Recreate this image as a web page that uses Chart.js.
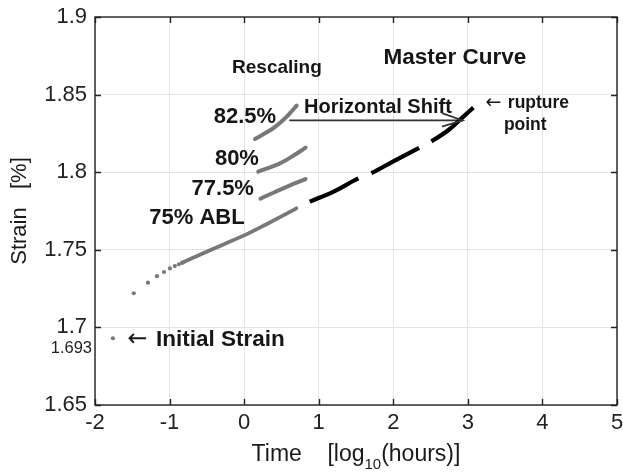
<!DOCTYPE html>
<html>
<head>
<meta charset="utf-8">
<script src="https://cdn.jsdelivr.net/npm/chart.js@4.4.0/dist/chart.umd.min.js"></script>
<style>
  html, body { margin: 0; padding: 0; background: #fff; }
  #wrap { width: 623px; height: 472px; }
</style>
</head>
<body>
<div id="wrap"><canvas id="strainChart"></canvas></div>
<script>
// time in log10(hours), strain in %
const initialTime = [-1.76];
const initialStrain = [1.693];

const dots75Time = [-1.48, -1.29, -1.17, -1.075, -0.995, -0.93, -0.875, -0.83];
const dots75Strain = [1.722, 1.7288, 1.733, 1.7357, 1.738, 1.7395, 1.7407, 1.7417];

const line75Time = [-0.83, -0.6, -0.3, 0, 0.3, 0.5, 0.7];
const line75Strain = [1.7417, 1.7467, 1.753, 1.7593, 1.7665, 1.7715, 1.7767];

const line775Time = [0.22, 0.524, 0.824];
const line775Strain = [1.783, 1.7896, 1.7956];

const line80Time = [0.189, 0.48, 0.658, 0.824];
const line80Strain = [1.8003, 1.8057, 1.8106, 1.8158];

const line825Time = [0.145, 0.39, 0.524, 0.614, 0.704];
const line825Strain = [1.8214, 1.8283, 1.8336, 1.838, 1.8429];

const masterTime = [0.88, 1.2, 1.53, 1.71, 2.0, 2.36, 2.54, 2.75, 2.94, 3.1];
const masterStrain = [1.781, 1.7875, 1.796, 1.7995, 1.807, 1.816, 1.8207, 1.8275, 1.8358, 1.8427];

const shiftTime = [0.614, 2.93];
const shiftStrain = [1.8334, 1.8334];

const xTicks = [-2, -1, 0, 1, 2, 3, 4, 5];
const yTicks = [1.65, 1.7, 1.75, 1.8, 1.85, 1.9];

const toPoints = (xs, ys) => xs.map((x, i) => ({ x, y: ys[i] }));

const GRAY = '#787878';
const INK = '#161616';
const FONT = '"Liberation Sans", Arial, Helvetica, sans-serif';
const ARROW_FONT = '"DejaVu Sans", sans-serif';

// text notes, placed in data units
const notes = [
  { text: 'Rescaling', x: 0.44, y: 1.8671, size: 19, bold: true },
  { text: 'Master Curve', x: 2.826, y: 1.8736, size: 22.5, bold: true },
  { text: '82.5%', x: 0.011, y: 1.8358, size: 22, bold: true },
  { text: '80%', x: -0.097, y: 1.8084, size: 22, bold: true },
  { text: '77.5%', x: -0.287, y: 1.7889, size: 22, bold: true },
  { text: '75% ABL', x: -0.633, y: 1.7703, size: 22, bold: true },
  { text: 'Horizontal Shift', x: 1.794, y: 1.842, size: 20, bold: true },
  { text: '\u2190', x: 3.342, y: 1.8446, size: 19, bold: false, family: ARROW_FONT },
  { text: 'rupture', x: 3.536, y: 1.8416, size: 17.5, bold: true, align: 'left', base: 'alphabetic' },
  { text: 'point', x: 3.483, y: 1.8272, size: 17.5, bold: true, align: 'left', base: 'alphabetic' },
  { text: '\u2190', x: -1.43, y: 1.6922, size: 24, bold: false, family: ARROW_FONT },
  { text: 'Initial Strain', x: -0.318, y: 1.6919, size: 22.5, bold: true }
];

const decorations = {
  id: 'decorations',
  afterDatasetsDraw(chart) {
    const { ctx, chartArea: a, scales: { x, y } } = chart;
    ctx.save();

    // arrow head on the horizontal shift line
    const tipX = x.getPixelForValue(shiftTime[1]);
    const tipY = y.getPixelForValue(shiftStrain[1]);
    ctx.strokeStyle = '#333';
    ctx.lineWidth = 1.7;
    ctx.lineCap = 'round';
    ctx.beginPath();
    ctx.moveTo(tipX - 20, tipY - 7);
    ctx.lineTo(tipX, tipY);
    ctx.lineTo(tipX - 20, tipY + 6);
    ctx.stroke();

    // box and inward ticks
    ctx.strokeStyle = '#222';
    ctx.lineWidth = 1.4;
    ctx.lineCap = 'butt';
    ctx.strokeRect(a.left, a.top, a.right - a.left, a.bottom - a.top);
    ctx.beginPath();
    xTicks.forEach(t => {
      const px = Math.round(x.getPixelForValue(t)) + 0.5;
      ctx.moveTo(px, a.bottom); ctx.lineTo(px, a.bottom - 6);
      ctx.moveTo(px, a.top); ctx.lineTo(px, a.top + 6);
    });
    yTicks.forEach(t => {
      const py = Math.round(y.getPixelForValue(t)) + 0.5;
      ctx.moveTo(a.left, py); ctx.lineTo(a.left + 6, py);
      ctx.moveTo(a.right, py); ctx.lineTo(a.right - 6, py);
    });
    ctx.stroke();

    // notes
    ctx.fillStyle = INK;
    notes.forEach(n => {
      ctx.font = `${n.bold ? 'bold ' : ''}${n.size}px ${n.family || FONT}`;
      ctx.textAlign = n.align || 'center';
      ctx.textBaseline = n.base || 'middle';
      ctx.fillText(n.text, x.getPixelForValue(n.x), y.getPixelForValue(n.y));
    });

    // extra label for the initial strain value
    ctx.font = `16.5px ${FONT}`;
    ctx.fillStyle = '#222';
    ctx.textAlign = 'right';
    ctx.textBaseline = 'alphabetic';
    ctx.fillText(initialStrain[0].toFixed(3), a.left - 3, y.getPixelForValue(initialStrain[0]) + 15);

    // x axis title with subscript
    const parts = [
      { t: 'Time    [log', size: 23, dy: 0 },
      { t: '10', size: 15, dy: 8 },
      { t: '(hours)]', size: 23, dy: 0 }
    ];
    let total = 0;
    parts.forEach(p => { ctx.font = `${p.size}px ${FONT}`; p.w = ctx.measureText(p.t).width; total += p.w; });
    let cx = (a.left + a.right) / 2 - total / 2;
    const base = x.bottom - 11;
    ctx.textAlign = 'left';
    ctx.fillStyle = '#1a1a1a';
    parts.forEach(p => {
      ctx.font = `${p.size}px ${FONT}`;
      ctx.fillText(p.t, cx, base + p.dy);
      cx += p.w;
    });
    ctx.restore();
  }
};

const curve = (label, xs, ys, color, width, dash) => ({
  label,
  data: toPoints(xs, ys),
  showLine: true,
  borderColor: color,
  borderWidth: width,
  borderDash: dash || [],
  borderCapStyle: dash ? 'butt' : 'round',
  tension: 0.35,
  pointRadius: 0,
  fill: false
});

const dots = (label, xs, ys) => ({
  label,
  data: toPoints(xs, ys),
  showLine: false,
  pointRadius: 2.1,
  pointBackgroundColor: GRAY,
  pointBorderWidth: 0
});

Chart.defaults.font.family = FONT;

new Chart(document.getElementById('strainChart'), {
  type: 'scatter',
  data: {
    datasets: [
      dots('Initial strain', initialTime, initialStrain),
      dots('75% ABL early', dots75Time, dots75Strain),
      curve('75% ABL', line75Time, line75Strain, GRAY, 3.8),
      curve('77.5%', line775Time, line775Strain, GRAY, 4),
      curve('80%', line80Time, line80Strain, GRAY, 4),
      curve('82.5%', line825Time, line825Strain, GRAY, 4),
      curve('Master curve', masterTime, masterStrain, '#000', 4.2, [54, 14]),
      { ...curve('Horizontal shift', shiftTime, shiftStrain, '#333', 1.6), tension: 0 }
    ]
  },
  options: {
    responsive: true,
    maintainAspectRatio: false,
    animation: false,
    events: [],
    layout: { padding: { top: 17, right: 6, left: 0, bottom: 0 } },
    plugins: { legend: { display: false }, tooltip: { enabled: false } },
    scales: {
      x: {
        type: 'linear',
        min: -2,
        max: 5,
        afterBuildTicks: s => { s.ticks = xTicks.map(v => ({ value: v })); },
        ticks: { font: { size: 22 }, color: '#222', padding: 5 },
        grid: { color: '#e3e3e3', lineWidth: 1, drawTicks: false },
        border: { display: false },
        afterFit: s => { s.height = 67; s.paddingLeft = 0; s.paddingRight = 0; }
      },
      y: {
        min: 1.65,
        max: 1.9,
        afterBuildTicks: s => { s.ticks = yTicks.map(v => ({ value: v })); },
        ticks: {
          font: { size: 22 },
          color: '#222',
          padding: 8,
          callback: v => String(+v.toFixed(2))
        },
        grid: { color: '#e3e3e3', lineWidth: 1, drawTicks: false },
        border: { display: false },
        title: {
          display: true,
          text: 'Strain   [%]',
          font: { size: 22 },
          color: '#1a1a1a',
          padding: { top: 7, bottom: 0 }
        },
        afterFit: s => { s.width = 95; s.paddingTop = 0; s.paddingBottom = 0; }
      }
    }
  },
  plugins: [decorations]
});
</script>
</body>
</html>
